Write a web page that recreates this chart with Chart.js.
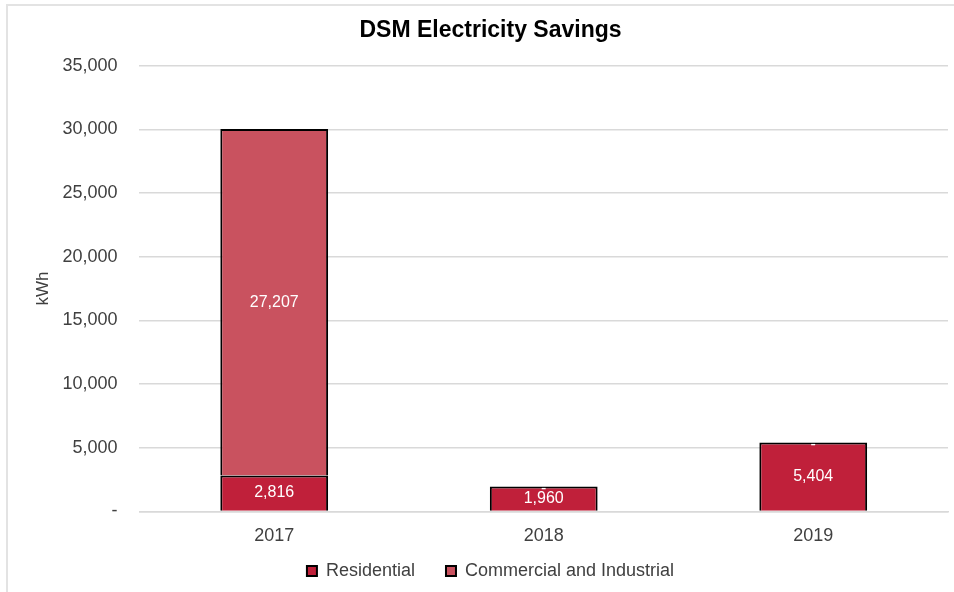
<!DOCTYPE html>
<html>
<head>
<meta charset="utf-8">
<script src="https://cdn.jsdelivr.net/npm/chart.js@4/dist/chart.umd.min.js"></script>
<style>
  html, body { margin: 0; padding: 0; background: #fff; }
  #frame {
    position: absolute; left: 6px; top: 4px; width: 948px; height: 588px;
    border-left: 2px solid #e3e3e3; border-top: 2px solid #e3e3e3;
    box-sizing: border-box;
  }
  #chart { display: block; }
</style>
</head>
<body>
<div id="frame"><canvas id="chart" width="946" height="586"></canvas></div>
<script>
// data
const years = ['2017', '2018', '2019'];
const residential = [2816, 1960, 5404];
const commercial = [27207, 0, 0];

const fmt = v => v === 0 ? '-' : v.toLocaleString('en-US');

// draws the value inside each stacked segment, like Excel's data labels
const segmentLabels = {
    id: 'segmentLabels',
    afterDatasetsDraw(chart) {
        const ctx = chart.ctx;
        ctx.save();
        ctx.font = '16px "Liberation Sans", Arial, sans-serif';
        ctx.fillStyle = '#ffffff';
        ctx.textAlign = 'center';
        ctx.textBaseline = 'middle';
        chart.data.datasets.forEach((ds, i) => {
            const meta = chart.getDatasetMeta(i);
            meta.data.forEach((bar, j) => {
                let y = (bar.y + bar.base) / 2;
                if (ds.data[j] === 0) y += 2; // zero segment: dash just inside the top edge
                ctx.fillText(fmt(ds.data[j]), bar.x, y);
            });
        });
        ctx.restore();
    }
};

const font = '"Liberation Sans", Arial, sans-serif';

new Chart(document.getElementById('chart'), {
    type: 'bar',
    data: {
        labels: years,
        datasets: [{
            label: 'Residential',
            data: residential,
            backgroundColor: '#c0203a',
            borderColor: '#000000',
            borderWidth: 2
        }, {
            label: 'Commercial and Industrial',
            data: commercial,
            backgroundColor: '#c9525f',
            borderColor: '#000000',
            borderWidth: 2
        }]
    },
    options: {
        responsive: false,
        animation: false,
        layout: { padding: { left: 25, right: 6, top: 2, bottom: 2 } },
        datasets: { bar: { categoryPercentage: 1, barPercentage: 0.4 } },
        scales: {
            x: {
                stacked: true,
                grid: { display: false },
                border: { color: '#d9d9d9', width: 1.5 },
                ticks: { color: '#404040', font: { family: font, size: 18 }, padding: 6 },
                // extra room under the year labels, before the legend
                afterFit(scale) { scale.height += 8; }
            },
            y: {
                stacked: true,
                min: 0,
                max: 35000,
                grid: { color: '#d9d9d9', lineWidth: 1.5, drawTicks: false },
                border: { display: false },
                ticks: {
                    stepSize: 5000,
                    color: '#404040',
                    padding: 22,
                    font: { family: font, size: 18 },
                    callback: v => fmt(v)
                },
                title: {
                    display: true,
                    text: 'kWh',
                    color: '#404040',
                    font: { family: font, size: 17 },
                    padding: { top: 0, bottom: -13 }
                }
            }
        },
        plugins: {
            title: {
                display: true,
                text: 'DSM Electricity Savings',
                color: '#000',
                font: { family: font, size: 23, weight: 'bold' },
                padding: { top: 9, bottom: 21 }
            },
            legend: {
                position: 'bottom',
                labels: {
                    color: '#404040',
                    font: { family: font, size: 18 },
                    boxWidth: 10,
                    boxHeight: 10,
                    padding: 1,
                    // wide gap between entries without growing the legend's height
                    generateLabels(chart) {
                        const items = Chart.defaults.plugins.legend.labels.generateLabels(chart);
                        items.forEach((it, i) => {
                            if (i < items.length - 1) it.text += '      ';
                        });
                        return items;
                    }
                }
            },
            tooltip: { enabled: false }
        }
    },
    plugins: [segmentLabels]
});
</script>
</body>
</html>
